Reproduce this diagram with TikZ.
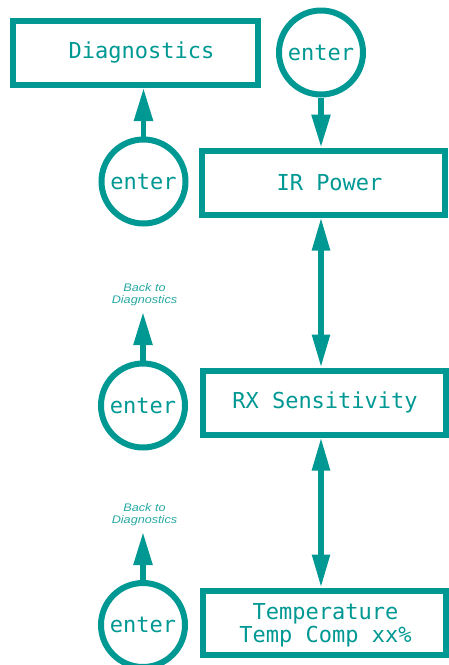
\documentclass[tikz,border=0pt]{standalone}
\usepackage{fontspec}
\setmonofont{DejaVu Sans Mono}
\newfontfamily\lblfont[FakeStretch=1.15]{Liberation Sans}
\usetikzlibrary{arrows.meta}
\definecolor{teal1}{RGB}{0,152,147}
\tikzset{
  box/.style={draw=teal1, line width=6pt, minimum width=243pt, minimum height=64pt, inner sep=0pt},
  btn/.style={draw=teal1, line width=6pt, circle, minimum size=84pt, inner sep=0pt,
    font=\ttfamily\fontsize{22}{24}\selectfont, text=teal1},
  txt/.style={font=\ttfamily\fontsize{22}{23}\selectfont, text=teal1, align=center, inner sep=0pt},
  back/.style={font=\lblfont\itshape\fontsize{11}{12.5}\selectfont, text=teal1!85, align=center, inner sep=0pt},
  arr/.style={draw=teal1, line width=5.5pt, -{Triangle[length=33pt,width=18pt]}},
  darr/.style={draw=teal1, line width=5.5pt, {Triangle[length=33pt,width=17pt]}-{Triangle[length=33pt,width=17pt]}},
}
\begin{document}
\begin{tikzpicture}[x=1pt,y=-1pt]
\useasboundingbox (0,0) rectangle (448,665);
% boxes
\node[box, minimum width=245.5pt] (diag) at (135.25,53) {};
\node[box] (ir) at (323.5,182.5) {};
\node[box] (rx) at (324,402.5) {};
\node[box] (temp) at (324,622.5) {};
% box texts
\node[txt] (diagt) at (141.5,53) {Diagnostics};
\node[txt] (irt) at (329.5,182.5) {IR Power};
\node[txt] (rxt) at (325,402.5) {RX Sensitivity};
\node[txt, anchor=base] (tempt) at (325.5,619) {Temperature};
\node[txt, anchor=base] (tempt2) at (325.5,642) {Temp Comp xx\%};
% buttons
\node[btn] (ctop) at (321,52.5) {enter};
\node[btn] (c2) at (143.5,181.5) {enter};
\node[btn] (c3) at (143,405.5) {enter};
\node[btn] (c4) at (143,625) {enter};
% back labels
\node[back, anchor=south] (b3) at (144.5,306) {Back to\\Diagnostics};
\node[back, anchor=south] (b4) at (144.5,526) {Back to\\Diagnostics};
% connectors
\draw[arr] (ctop.south) -- (ctop.south |- ir.north);
\draw[arr] (c2.north) -- (c2.north |- diag.south);
\draw[darr] (ctop.south |- ir.south) -- (ctop.south |- rx.north);
\draw[darr] (ctop.south |- rx.south) -- (ctop.south |- temp.north);
\draw[arr, shorten >=6pt] (c3.north) -- (c3.north |- b3.south);
\draw[arr, shorten >=6pt] (c4.north) -- (c4.north |- b4.south);
\end{tikzpicture}
\end{document}
